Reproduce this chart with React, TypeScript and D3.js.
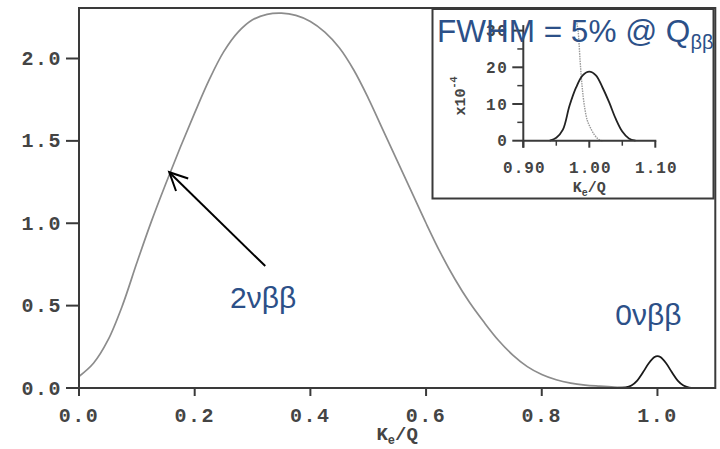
import React from "react";
import * as d3 from "d3";

// ---- data ----
const twoNuX = [0.0, 0.025, 0.05, 0.075, 0.1, 0.125, 0.15, 0.175, 0.2, 0.225, 0.25, 0.275, 0.3, 0.325, 0.35, 0.375, 0.4, 0.425, 0.45, 0.475, 0.5, 0.525, 0.55, 0.575, 0.6, 0.625, 0.65, 0.675, 0.7, 0.725, 0.75, 0.775, 0.8, 0.825, 0.85, 0.875, 0.9, 0.925, 0.95, 0.97];
const twoNuY = [0.07, 0.15, 0.29, 0.5, 0.76, 1.01, 1.24, 1.46, 1.67, 1.87, 2.04, 2.16, 2.235, 2.268, 2.275, 2.262, 2.225, 2.16, 2.065, 1.93, 1.76, 1.57, 1.38, 1.19, 1.0, 0.82, 0.66, 0.52, 0.4, 0.29, 0.2, 0.13, 0.082, 0.05, 0.03, 0.018, 0.011, 0.005, 0.001, 0.0];

const zeroNuX = [0.93, 0.945, 0.955, 0.965, 0.975, 0.985, 0.995, 1.0, 1.005, 1.015, 1.025, 1.035, 1.045, 1.055, 1.065, 1.075];
const zeroNuY = [0.0, 0.003, 0.015, 0.045, 0.095, 0.15, 0.188, 0.193, 0.188, 0.15, 0.095, 0.045, 0.015, 0.003, 0.0, 0.0];

// inset (units of 1e-4)
const insetPeakX = [0.94, 0.95, 0.96, 0.97, 0.98, 0.99, 1.0, 1.01, 1.02, 1.03, 1.04, 1.05, 1.06, 1.07];
const insetPeakY = [0.0, 0.8, 3.0, 9.5, 14.5, 17.8, 18.8, 17.8, 14.5, 10.5, 6.0, 2.5, 0.6, 0.0];
const insetTailX = [0.981, 0.983, 0.986, 0.989, 0.993, 0.997, 1.001, 1.007, 1.012, 1.017, 1.02];
const insetTailY = [32, 30, 22, 15, 9, 5.5, 3.8, 1.8, 0.7, 0.1, 0.0];

const xTicks = [0.0, 0.2, 0.4, 0.6, 0.8, 1.0];
const yTicks = [0.0, 0.5, 1.0, 1.5, 2.0];
const insetXTicks = [0.9, 1.0, 1.1];
const insetXMinor = [0.95, 1.05];
const insetYTicks = [0, 10, 20, 30];
const insetYMinor = [5, 15, 25];

// annotation anchors in data coordinates
const arrowTip = [0.156, 1.31];
const arrowTail = [0.322, 0.74];
const label2nu = [0.261, 0.485];
const label0nu = [0.927, 0.38];

const MONO = "'Liberation Mono', 'DejaVu Sans Mono', monospace";
const SANS = "'Liberation Sans', Arial, sans-serif";
const BLUE = "#2C5088";
const AX = "#3a3a3a";
const TXT = "#444";

export default function App() {
  const W = 720, H = 449;
  const x = d3.scaleLinear().domain([0, 1.1]).range([79, 715.3]);
  const y = d3.scaleLinear().domain([0, 2.0]).range([388, 58.5]);
  const yTop = 8;

  const line = d3.line<[number, number]>().x(d => x(d[0])).y(d => y(d[1])).curve(d3.curveCatmullRom.alpha(0.5));
  const twoNu = twoNuX.map((v, i) => [v, twoNuY[i]] as [number, number]);
  const zeroNu = zeroNuX.map((v, i) => [v, zeroNuY[i]] as [number, number]);

  const ix = d3.scaleLinear().domain([0.9, 1.1]).range([523.3, 655.3]);
  const iy = d3.scaleLinear().domain([0, 30]).range([140.7, 30.6]);
  const iline = d3.line<[number, number]>().x(d => ix(d[0])).y(d => iy(d[1])).curve(d3.curveCatmullRom.alpha(0.5));
  const iPeak = insetPeakX.map((v, i) => [v, insetPeakY[i]] as [number, number]);
  const iTail = insetTailX.map((v, i) => [v, insetTailY[i]] as [number, number]);

  const tip = [x(arrowTip[0]), y(arrowTip[1])];
  const tail = [x(arrowTail[0]), y(arrowTail[1])];
  const ang = Math.atan2(tail[1] - tip[1], tail[0] - tip[0]);
  const hl = 20, ha = 0.45;
  const h1 = [tip[0] + hl * Math.cos(ang - ha), tip[1] + hl * Math.sin(ang - ha)];
  const h2 = [tip[0] + hl * Math.cos(ang + ha), tip[1] + hl * Math.sin(ang + ha)];

  const x0 = x(0), x1 = x(1.1), y0 = y(0);

  return (
    <svg width={W} height={H} style={{ position: "absolute", left: 0, top: 0, background: "#fff" }}>
      <rect width={W} height={H} fill="#fff" />
      {/* main curves */}
      <path d={line(twoNu) || ""} fill="none" stroke="#8c8c8c" strokeWidth={1.7} />
      <path d={line(zeroNu) || ""} fill="none" stroke="#1a1a1a" strokeWidth={1.8} />

      {/* frame */}
      <path d={`M${x0},${yTop}H${x1}V${y0}H${x0}Z`} fill="none" stroke={AX} strokeWidth={2} />
      {xTicks.map(t => (
        <g key={"xt" + t}>
          <line x1={x(t)} x2={x(t)} y1={y0} y2={y0 + 8} stroke={AX} strokeWidth={2} />
          <text x={x(t)} y={y0 + 34} textAnchor="middle" fontFamily={MONO} fontWeight="bold" fontSize={20} letterSpacing={1.5} fill={TXT}>{t.toFixed(1)}</text>
        </g>
      ))}
      {yTicks.map(t => (
        <g key={"yt" + t}>
          <line x1={x0 - 13} x2={x0} y1={y(t)} y2={y(t)} stroke={AX} strokeWidth={2} />
          <text x={x0 - 17} y={y(t) + 6.5} textAnchor="end" fontFamily={MONO} fontWeight="bold" fontSize={20} letterSpacing={1.5} fill={TXT}>{t.toFixed(1)}</text>
        </g>
      ))}
      <text x={(x0 + x1) / 2} y={440} textAnchor="middle" fontFamily={MONO} fontWeight="bold" fontSize={19} fill={TXT}>
        K<tspan fontSize={12} dy={4}>e</tspan><tspan dy={-4}>/Q</tspan>
      </text>

      {/* arrow + labels */}
      <line x1={tail[0]} y1={tail[1]} x2={tip[0]} y2={tip[1]} stroke="#000" strokeWidth={2} />
      <polyline points={`${h1[0]},${h1[1]} ${tip[0]},${tip[1]} ${h2[0]},${h2[1]}`} fill="none" stroke="#000" strokeWidth={2} />
      <text x={x(label2nu[0])} y={y(label2nu[1])} fontFamily={SANS} fontSize={30} fill={BLUE}>2νββ</text>
      <text x={x(label0nu[0])} y={y(label0nu[1])} fontFamily={SANS} fontSize={30} fill={BLUE}>0νββ</text>

      {/* inset */}
      <rect x={432.5} y={9} width={281} height={189.5} fill="#fff" stroke={AX} strokeWidth={2} />
      <path d={iline(iTail) || ""} fill="none" stroke="#9a9a9a" strokeWidth={1.4} strokeDasharray="1.5,1" />
      <path d={iline(iPeak) || ""} fill="none" stroke="#222" strokeWidth={1.8} />
      <line x1={ix(0.9)} x2={ix(0.9)} y1={iy(0) + 7} y2={iy(31.5)} stroke={AX} strokeWidth={2} />
      <line x1={ix(0.9)} x2={ix(1.1) + 1} y1={iy(0)} y2={iy(0)} stroke={AX} strokeWidth={2} />
      {insetXTicks.map(t => (
        <g key={"ixt" + t}>
          <line x1={ix(t)} x2={ix(t)} y1={iy(0)} y2={iy(0) + 7} stroke={AX} strokeWidth={2} />
          <text x={ix(t) + 1} y={iy(0) + 32} textAnchor="middle" fontFamily={MONO} fontWeight="bold" fontSize={16} letterSpacing={1} fill={TXT}>{t.toFixed(2)}</text>
        </g>
      ))}
      {insetXMinor.map(t => (
        <line key={"ixm" + t} x1={ix(t)} x2={ix(t)} y1={iy(0)} y2={iy(0) + 5} stroke={AX} strokeWidth={1.5} />
      ))}
      {insetYTicks.map(t => (
        <g key={"iyt" + t}>
          <line x1={ix(0.9) - 11} x2={ix(0.9)} y1={iy(t)} y2={iy(t)} stroke={AX} strokeWidth={2} />
          <text x={ix(0.9) - 15} y={iy(t) + 5.5} textAnchor="end" fontFamily={MONO} fontWeight="bold" fontSize={16} letterSpacing={1.5} fill={TXT}>{t}</text>
        </g>
      ))}
      {insetYMinor.map(t => (
        <line key={"iym" + t} x1={ix(0.9) - 6} x2={ix(0.9)} y1={iy(t)} y2={iy(t)} stroke={AX} strokeWidth={1.5} />
      ))}
      <text transform={`translate(465,${96}) rotate(-90)`} textAnchor="middle" fontFamily={MONO} fontWeight="bold" fontSize={15} fill={TXT}>
        x10<tspan fontSize={10} dy={-8}>-4</tspan>
      </text>
      <text x={ix(1.0)} y={192} textAnchor="middle" fontFamily={MONO} fontWeight="bold" fontSize={15} fill={TXT}>
        K<tspan fontSize={10} dy={4}>e</tspan><tspan dy={-4}>/Q</tspan>
      </text>

      <text x={437} y={42} fontFamily={SANS} fontSize={31.5} fill={BLUE}>
        FWHM = 5% @ Q<tspan fontSize={20} dy={7}>ββ</tspan>
      </text>
    </svg>
  );
}
